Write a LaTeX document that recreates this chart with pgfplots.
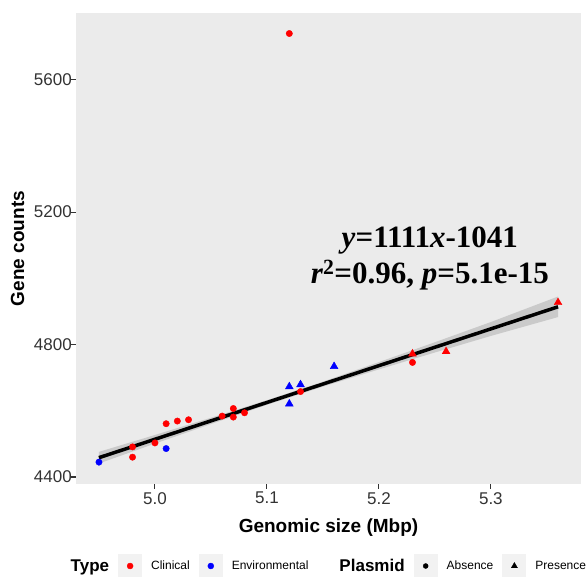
\documentclass[border=0pt]{standalone}
\usepackage{fontspec}
\setmainfont{Liberation Sans}
\newfontfamily\eqfont{Liberation Serif}
\usepackage{pgfplots}
\pgfplotsset{compat=1.18}

\definecolor{panelbg}{HTML}{EBEBEB}
\definecolor{keybg}{HTML}{F2F2F2}
\definecolor{ggred}{HTML}{FF0000}
\definecolor{ggblue}{HTML}{0000FF}
\definecolor{tickgray}{HTML}{333333}
\definecolor{labgray}{HTML}{333333}

% legend key: grey square with the mark in the middle, padding on both sides
\pgfplotsset{
  ggkey/.style={legend image code/.code={
    \path[draw=none,fill=none] (-9pt,-12pt) rectangle (33pt,12pt);
    \path[draw=none,fill=keybg] (0pt,-12pt) rectangle (24pt,12pt);
    \draw[##1] plot coordinates {(12pt,0pt)};}},
}

\begin{document}
\begin{tikzpicture}
\begin{axis}[
  at={(76pt,93pt)}, anchor=south west,
  scale only axis, width=505pt, height=471pt,
  xmin=4.9295, xmax=5.3805, ymin=4379, ymax=5801,
  axis background/.style={fill=panelbg},
  axis line style={draw=none},
  xtick={5.0,5.1,5.2,5.3}, xticklabels={5.0,5.1,5.2,5.3},
  ytick={4400,4800,5200,5600}, yticklabels={4400,4800,5200,5600},
  tick pos=left, tick align=outside, major tick length=5pt,
  every tick/.style={tickgray, line width=1.1pt},
  /pgf/number format/assume math mode=true,
  tick label style={font=\fontsize{17}{17}\selectfont, text=labgray, inner sep=0pt},
  yticklabel style={anchor=east},
  xticklabel style={anchor=north},
  yticklabel shift=-1pt,
  xticklabel shift=3pt,
  xlabel={Genomic size (Mbp)}, ylabel={Gene counts},
  label style={font=\fontsize{19}{19}\selectfont\bfseries},
  xlabel style={at={(axis description cs:0.5,-0.092)}, anchor=center},
  ylabel style={at={(axis description cs:-0.1158,0.5)}, anchor=center},
  legend style={at={(axis description cs:-0.0109,-0.1741)}, anchor=west,
    draw=none, fill=none, inner sep=0pt, column sep=0pt,
    nodes={inner sep=0pt, font=\fontsize{12}{14}\selectfont}},
  legend columns=6,
]
% Clinical, no plasmid
\addplot[forget plot, only marks, mark=*, mark size=3.2pt, ggred] coordinates {
(4.98,4460) (4.98,4491) (5.00,4503) (5.01,4561) (5.02,4569) (5.03,4573)
(5.06,4584) (5.07,4607) (5.07,4581) (5.08,4594) (5.13,4658) (5.23,4746)
(5.12,5739)
};
% Clinical, plasmid
\addplot[forget plot, only marks, mark=triangle*, mark size=4.5pt, ggred] coordinates {
(5.23,4772) (5.26,4779) (5.36,4927)
};
% Environmental
\addplot[forget plot, only marks, mark=*, mark size=3.2pt, ggblue] coordinates {
(4.95,4445) (5.01,4486)
};
\addplot[forget plot, only marks, mark=triangle*, mark size=4.5pt, ggblue] coordinates {
(5.12,4673) (5.12,4621) (5.13,4679) (5.16,4734)
};
% confidence band
\addplot[forget plot, draw=none, fill=black!40, fill opacity=0.4] coordinates {
(4.95,4476) (5.00,4527) (5.05,4579) (5.10,4632) (5.15,4688) (5.20,4747)
(5.25,4807) (5.30,4868) (5.36,4945)
(5.36,4883) (5.30,4826) (5.25,4776) (5.20,4725) (5.15,4673) (5.10,4618)
(5.05,4560) (5.00,4501) (4.95,4441)
} -- cycle;
% fit
\addplot[forget plot, black, line width=3.5pt] coordinates {(4.95,4458.5) (5.36,4914)};

\node[anchor=base, font=\eqfont\fontsize{31}{31}\selectfont\bfseries]
  at (axis cs:5.2455,5093) {\textit{y}=1111\textit{x}-1041};
\node[anchor=base, font=\eqfont\fontsize{31}{31}\selectfont\bfseries]
  at (axis cs:5.2455,4984) {\textit{r}\textsuperscript{2}=0.96, \textit{p}=5.1e-15};

\addlegendimage{empty legend}
\addlegendentry{\fontsize{17}{17}\selectfont\bfseries Type}
\addlegendimage{only marks, mark=*, mark size=3pt, ggred, ggkey}
\addlegendentry{Clinical}
\addlegendimage{only marks, mark=*, mark size=3pt, ggblue, ggkey}
\addlegendentry{Environmental\hspace*{31pt}}
\addlegendimage{empty legend}
\addlegendentry{\fontsize{17}{17}\selectfont\bfseries Plasmid}
\addlegendimage{only marks, mark=*, mark size=2.5pt, black, ggkey}
\addlegendentry{Absence}
\addlegendimage{only marks, mark=triangle*, mark size=3.5pt, black, ggkey}
\addlegendentry{Presence}
\end{axis}
\pgfresetboundingbox
\path[use as bounding box] (0,0) rectangle (588pt,577pt);
\end{tikzpicture}
\end{document}
